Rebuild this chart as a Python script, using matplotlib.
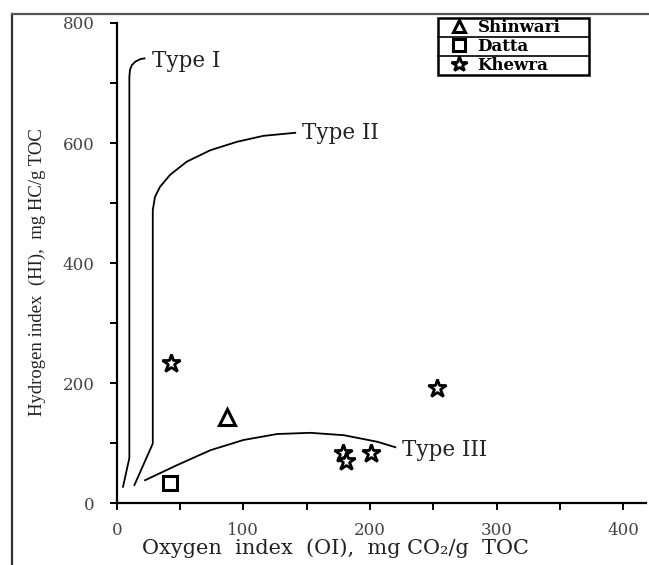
import matplotlib
matplotlib.use("Agg")
import matplotlib.pyplot as plt
from matplotlib.lines import Line2D
from matplotlib.patches import Rectangle

# ---- data ----
shinwari_oi = [87]
shinwari_hi = [144]
datta_oi = [42]
datta_hi = [33]
khewra_oi = [43, 179, 181, 201, 253]
khewra_hi = [233, 84, 70, 83, 191]

type1_x = [5, 10, 10, 10.5, 12, 15, 19, 22]
type1_y = [27, 75, 710, 722, 730, 736, 740, 741]
type2_x = [14, 28.5, 28.5, 30.2, 34.2, 42.2, 55.4, 74, 95, 116, 141]
type2_y = [30, 99, 488, 510, 527, 547, 569, 588, 602, 612, 617]
type3_x = [22.4, 47.5, 74, 100, 126.7, 153, 179.4, 206, 220]
type3_y = [38, 63, 88, 105, 115, 117, 113, 102, 93]

x_ticks = [0, 100, 200, 300, 400]
y_ticks = [0, 200, 400, 600, 800]
x_minor = [50, 150, 250, 350]
y_minor = [100, 300, 500, 700]

SERIF = ["DejaVu Serif"]
W, H = 649, 565

fig = plt.figure(figsize=(6.49, 5.65), dpi=100)
ax = fig.add_axes([0.1798, 0.1097, 0.8156, 0.8496])

# outer frame (cut off at right/bottom)
fig.add_artist(Line2D([11.5 / W, 11.5 / W], [0, 1 - 14 / H], transform=fig.transFigure,
                      color="#333333", lw=1.6))
fig.add_artist(Line2D([11.5 / W, 1.0], [1 - 14 / H, 1 - 14 / H], transform=fig.transFigure,
                      color="#555555", lw=1.6))

lw = 1.3
ax.plot(type1_x, type1_y, color="black", lw=lw)
ax.plot(type2_x, type2_y, color="black", lw=lw)
ax.plot(type3_x, type3_y, color="black", lw=lw)

ax.text(28, 737, "Type I", fontsize=15.5, family=SERIF, va="center", ha="left", color="#222222")
ax.text(146.5, 617, "Type II", fontsize=15.5, family=SERIF, va="center", ha="left", color="#222222")
ax.text(225, 88, "Type III", fontsize=15.5, family=SERIF, va="center", ha="left", color="#222222")

h1, = ax.plot(shinwari_oi, shinwari_hi, linestyle="none", marker="^", ms=11,
              mfc="white", mec="black", mew=2.2, label="Shinwari")
h2, = ax.plot(datta_oi, datta_hi, linestyle="none", marker="s", ms=9.5,
              mfc="white", mec="black", mew=2.2, label="Datta")
h3, = ax.plot(khewra_oi, khewra_hi, linestyle="none", marker="*", ms=13.5,
              mfc="white", mec="black", mew=2.0, label="Khewra")

ax.set_xlim(0, 418)
ax.set_ylim(0, 800)
ax.set_xticks(x_ticks)
ax.set_yticks(y_ticks)
ax.set_xticks(x_minor, minor=True)
ax.set_yticks(y_minor, minor=True)
ax.spines["top"].set_visible(False)
ax.spines["right"].set_visible(False)
for s in ("left", "bottom"):
    ax.spines[s].set_linewidth(1.6)
ax.tick_params(which="both", direction="out", length=5, width=1.4, color="black")
ax.tick_params(axis="x", which="major", pad=9)
ax.tick_params(axis="y", which="major", pad=11)
for lab in ax.get_xticklabels() + ax.get_yticklabels():
    lab.set_fontfamily(SERIF)
    lab.set_fontsize(12)
    lab.set_color("#444444")

ax.set_xlabel("Oxygen  index  (OI),  mg CO\u2082/g  TOC", fontsize=15, family=SERIF,
              color="#222222")
ax.set_ylabel("Hydrogen index  (HI),  mg HC/g TOC", fontsize=13.5,
              family=["Liberation Serif"], color="#222222")
ax.xaxis.set_label_coords((335 - 116.7) / (646 - 116.7), -(538 - 503) / 480)
ax.yaxis.set_label_coords(-(116.7 - 37) / (646 - 116.7), (503 - 272) / 480)
ax.xaxis.label.set_va("top")
ax.yaxis.label.set_va("center")

# legend: box drawn at its place, entries placed inside
lx0, ly0, lx1, ly1 = 438, 18, 589, 75
leg = ax.legend(handles=[h1, h2, h3], loc="upper left",
                bbox_to_anchor=((lx0 + 8) / W, 1 - (ly0 + 1) / H), bbox_transform=fig.transFigure,
                prop={"family": "DejaVu Serif", "weight": "bold", "size": 12},
                frameon=False, labelspacing=0.12, handlelength=1.5, handletextpad=0.4,
                borderpad=0, borderaxespad=0, markerscale=0.85)
fig.add_artist(Rectangle((lx0 / W, 1 - ly1 / H), (lx1 - lx0) / W, (ly1 - ly0) / H,
                         transform=fig.transFigure, fill=False, edgecolor="black", lw=1.8))
for k in (1, 2):
    yy = ly0 + (ly1 - ly0) * k / 3
    fig.add_artist(Line2D([lx0 / W, lx1 / W], [1 - yy / H, 1 - yy / H],
                          transform=fig.transFigure, color="black", lw=1.2))

fig.savefig("out.png", dpi=100)
